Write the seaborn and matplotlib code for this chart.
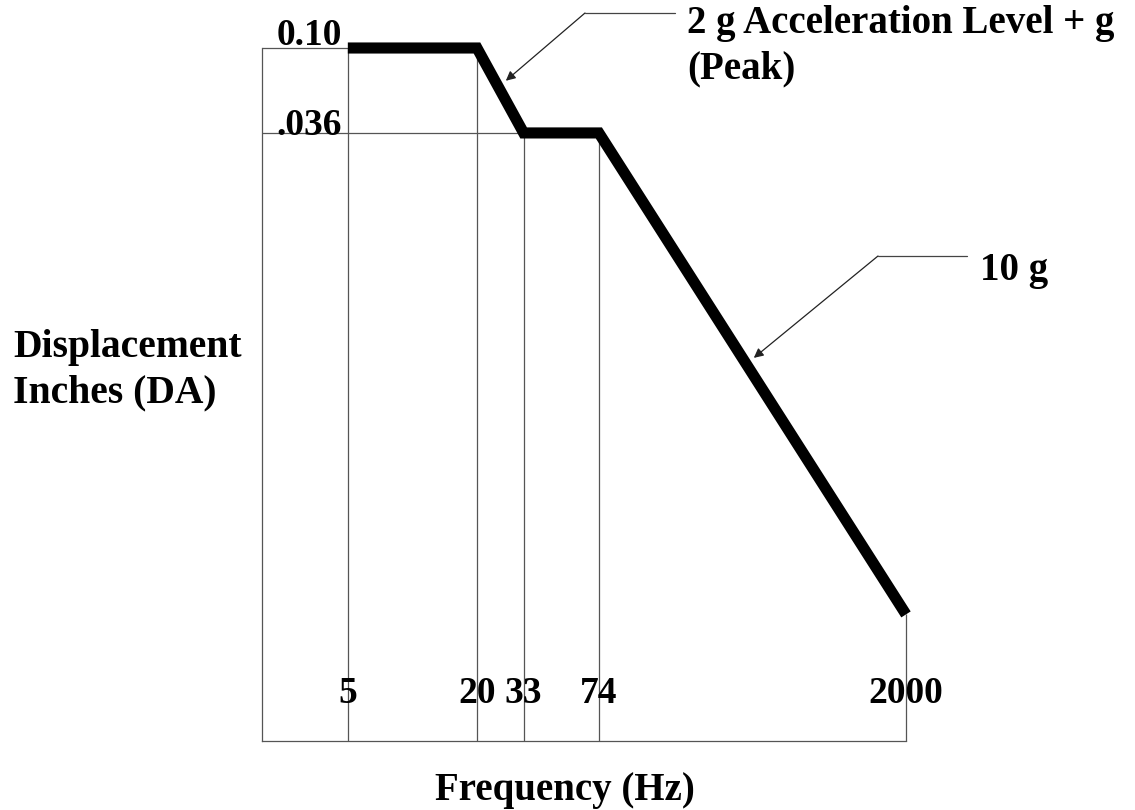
import numpy as np
import pandas as pd
import seaborn as sns
import matplotlib.pyplot as plt
from matplotlib.lines import Line2D

# vibration profile: displacement (in, DA) vs frequency (Hz)
freq_hz = [5, 20, 33, 74, 2000]
disp_in = [0.10, 0.10, 0.036, 0.036, 1.1e-4]
tick_labels = ['5', '20', '33', '74', '2000']
level_values = [0.10, 0.036]
level_labels = ['0.10', '.036']
level_ends = [5, 33]

df = pd.DataFrame({'Frequency': freq_hz, 'Displacement': disp_in})

sns.set_theme(style='white')
plt.rcParams['font.family'] = ['Liberation Serif', 'DejaVu Serif']
plt.rcParams['font.weight'] = 'bold'
plt.rcParams['font.size'] = 28
plt.rcParams['text.color'] = 'black'

W, H = 1135, 810
fig = plt.figure(figsize=(W / 100, H / 100), dpi=100)
ax = fig.add_axes([262 / W, 1 - 741 / H, (906 - 262) / W, (741 - 48) / H])

ax.set_xscale('log')
ax.set_yscale('log')
ax.set_xlim(1.99, 2000)
ax.set_ylim(2.4e-5, 0.1)

thin = dict(color='#555555', lw=0.9, clip_on=False)
ax.vlines(freq_hz, 2.4e-5, disp_in, **thin)
ax.hlines(level_values, 1.99, level_ends, **thin)

sns.lineplot(data=df, x='Frequency', y='Displacement', color='black', lw=8,
             sort=False, estimator=None, ax=ax, clip_on=False,
             solid_joinstyle='miter', solid_capstyle='butt')

for s in ['top', 'right']:
    ax.spines[s].set_visible(False)
for s in ['left', 'bottom']:
    ax.spines[s].set_color('#555555')
    ax.spines[s].set_linewidth(0.9)
ax.tick_params(which='both', length=0, labelbottom=False, labelleft=False)
ax.set_xlabel('')
ax.set_ylabel('')
ax.grid(False)

# frequency labels sit inside the frame
for f, lab in zip(freq_hz, tick_labels):
    ax.text(f, (741 - 703) / (741 - 48), lab, transform=ax.get_xaxis_transform(),
            ha='center', va='baseline', fontsize=27, fontweight='bold')

# level labels
for v, lab, dy in zip(level_values, level_labels, [3, -2]):
    ax.annotate(lab, xy=(5, v), xytext=(-6, dy), textcoords='offset pixels',
                ha='right', va='baseline', fontsize=27, fontweight='bold')

# multi-line texts: baseline given for the last line
fig.text(13 / W, 1 - 402 / H, 'Displacement\nInches (DA)', ha='left', va='baseline',
         fontsize=28.5, fontweight='bold', linespacing=1.3)
fig.text(565 / W, 1 - 800 / H, 'Frequency (Hz)', ha='center', va='baseline',
         fontsize=28, fontweight='bold')
fig.text(687 / W, 1 - 78 / H, '2 g Acceleration Level + g\n(Peak)', ha='left',
         va='baseline', fontsize=28, fontweight='bold', linespacing=1.3)
fig.text(980 / W, 1 - 280 / H, '10 g', ha='left', va='baseline',
         fontsize=28, fontweight='bold')


def leader(t, seg, elbow, end):
    # point on a log-log segment of the curve
    i = seg
    f = freq_hz[i] * (freq_hz[i + 1] / freq_hz[i]) ** t
    d = disp_in[i] * (disp_in[i + 1] / disp_in[i]) ** t
    ex, ey = elbow[0] / W, 1 - elbow[1] / H
    fig.add_artist(Line2D([ex, end / W], [ey, ey], transform=fig.transFigure,
                          color='#444444', lw=0.9))
    ax.annotate('', xy=(f, d), xytext=(ex, ey), textcoords='figure fraction',
                arrowprops=dict(arrowstyle='-|>', color='#222222', lw=0.9,
                                shrinkA=0, shrinkB=7, mutation_scale=14))


leader(0.46, 1, (585, 13), 675)
leader(0.48, 3, (878, 256), 967)

plt.savefig('out.png', dpi=100)
